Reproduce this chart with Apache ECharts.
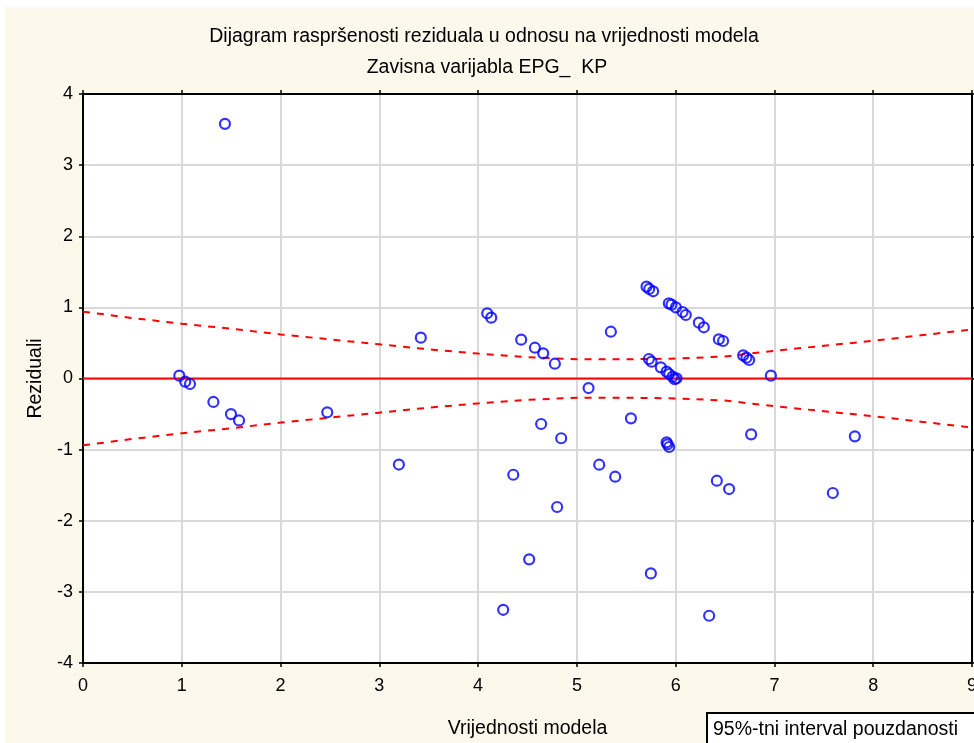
<!DOCTYPE html>
<html>
<head>
    <meta http-equiv="Content-Type" content="text/html; charset=utf-8"/>
    <script src="https://cdn.jsdelivr.net/npm/echarts@6/dist/echarts.min.js"></script>
    <style>
        html, body { margin: 0; padding: 0; background: #ffffff; }
    </style>
</head>
<body>

<div id="chart" style="width: 974px; height: 743px;"></div>

<script type="text/javascript">
    // vrijednosti modela (x) i reziduali (y)
    var modelValues = [1.437, 0.975, 1.035, 1.083, 1.32, 1.498, 1.58, 2.473, 3.198, 3.42,
        4.092, 4.133, 4.436, 4.575, 4.659, 4.777, 5.118, 5.344, 5.705, 5.732,
        5.772, 5.931, 5.958, 6.002, 6.07, 6.103, 6.235, 6.285, 6.437, 6.48,
        6.683, 6.717, 6.744, 6.964, 5.729, 5.756, 5.85, 5.908, 5.934, 5.968,
        6.009, 5.99, 4.638, 4.841, 5.547, 5.908, 5.917, 5.934, 6.764, 7.814,
        4.356, 5.226, 5.388, 6.417, 6.541, 7.591, 4.8, 4.517, 5.749, 4.254,
        6.339];
    var residuals = [3.58, 0.04, -0.045, -0.077, -0.33, -0.50, -0.59, -0.475, -1.21, 0.574,
        0.917, 0.855, 0.546, 0.433, 0.354, 0.208, -0.134, 0.658, 1.291, 1.259,
        1.226, 1.057, 1.038, 1.0, 0.935, 0.893, 0.785, 0.72, 0.551, 0.527,
        0.326, 0.293, 0.26, 0.04, 0.274, 0.236, 0.157, 0.096, 0.063, 0.025,
        0.003, -0.01, -0.64, -0.84, -0.56, -0.897, -0.925, -0.963, -0.785, -0.813,
        -1.353, -1.212, -1.381, -1.437, -1.554, -1.61, -1.807, -2.543, -2.74, -3.252,
        -3.336];

    // 95% interval pouzdanosti
    var bandX = [0, 0.5, 1, 1.5, 2, 2.5, 3, 3.5, 4, 4.5, 5, 5.5, 6, 6.5, 7, 7.5, 8, 8.5, 9];
    var bandUpper = [0.94, 0.85, 0.77, 0.70, 0.62, 0.55, 0.48, 0.41, 0.35, 0.30, 0.27, 0.27, 0.28, 0.31, 0.39, 0.46, 0.53, 0.61, 0.69];
    var bandLower = [-0.94, -0.85, -0.77, -0.70, -0.62, -0.55, -0.48, -0.41, -0.35, -0.30, -0.27, -0.27, -0.28, -0.31, -0.39, -0.46, -0.53, -0.61, -0.69];

    var zeroLine = [[0, 0], [9, 0]];

    var pts = modelValues.map(function (v, i) { return [v, residuals[i]]; });
    var up = bandX.map(function (v, i) { return [v, bandUpper[i]]; });
    var lo = bandX.map(function (v, i) { return [v, bandLower[i]]; });

    var font = '"Liberation Sans", Arial, sans-serif';

    var chart = echarts.init(document.getElementById('chart'));
    var option = {
        backgroundColor: '#ffffff',
        animation: false,
        textStyle: { fontFamily: font },
        title: [{
            text: 'Dijagram raspršenosti reziduala u odnosu na vrijednosti modela',
            left: 479, top: 22, textAlign: 'center',
            textStyle: { fontFamily: font, fontSize: 19.5, fontWeight: 'normal', color: '#000' }
        }, {
            text: 'Zavisna varijabla EPG_  KP',
            left: 482, top: 53, textAlign: 'center',
            textStyle: { fontFamily: font, fontSize: 19.5, fontWeight: 'normal', color: '#000' }
        }],
        graphic: [{
            type: 'rect', z: -10, silent: true,
            shape: { x: 5, y: 7, width: 975, height: 740 },
            style: { fill: '#fdf8ec' }
        }, {
            type: 'rect', z: 100,
            shape: { x: 707, y: 713, width: 270, height: 34 },
            style: { fill: '#ffffff', stroke: '#000', lineWidth: 2 }
        }, {
            type: 'text', z: 101,
            left: 713, top: 720,
            style: { text: '95%-tni interval pouzdanosti', font: '19.5px ' + font, fill: '#000' }
        }],
        grid: {
            left: 83, top: 94, right: 2, bottom: 80,
            outerBoundsMode: 'none',
            containLabel: false,
            show: true, backgroundColor: '#ffffff',
            borderColor: '#000', borderWidth: 2
        },
        xAxis: [{
            type: 'value', min: 0, max: 9, interval: 1,
            name: 'Vrijednosti modela', nameLocation: 'middle', nameGap: 56,
            nameTextStyle: { fontSize: 19.5, color: '#000' },
            axisLine: { onZero: false, lineStyle: { color: '#000', width: 2 } },
            axisTick: { show: true, length: 4, lineStyle: { color: '#000', width: 1.5 } },
            axisLabel: { fontSize: 18, color: '#000', margin: 14 },
            splitLine: { show: true, lineStyle: { color: '#d9d9d9', width: 2 } }
        }, {
            type: 'value', min: 0, max: 9, interval: 1, position: 'top',
            axisLine: { onZero: false, lineStyle: { color: '#000', width: 2 } },
            axisTick: { show: true, length: 4, lineStyle: { color: '#000', width: 1.5 } },
            axisLabel: { show: false },
            splitLine: { show: false }
        }],
        yAxis: [{
            type: 'value', min: -4, max: 4, interval: 1,
            name: 'Reziduali', nameLocation: 'middle', nameGap: 37, nameRotate: 90,
            nameTextStyle: { fontSize: 19.5, color: '#000' },
            axisLine: { onZero: false, lineStyle: { color: '#000', width: 2 } },
            axisTick: { show: true, length: 4, lineStyle: { color: '#000', width: 1.5 } },
            axisLabel: { fontSize: 18, color: '#000', margin: 10 },
            splitLine: { show: true, lineStyle: { color: '#d9d9d9', width: 2 } }
        }, {
            type: 'value', min: -4, max: 4, interval: 1, position: 'right',
            axisLine: { onZero: false, lineStyle: { color: '#000', width: 2 } },
            axisTick: { show: true, length: 4, lineStyle: { color: '#000', width: 1.5 } },
            axisLabel: { show: false },
            splitLine: { show: false }
        }],
        series: [{
            name: 'nula',
            type: 'line',
            data: zeroLine,
            symbol: 'none',
            lineStyle: { color: '#ff0000', width: 2 },
            z: 3
        }, {
            name: '95%-tni interval pouzdanosti',
            type: 'line',
            data: up,
            symbol: 'none',
            lineStyle: { color: '#ff0000', width: 2, type: [7, 7] },
            z: 3
        }, {
            name: '95%-tni interval pouzdanosti donji',
            type: 'line',
            data: lo,
            symbol: 'none',
            lineStyle: { color: '#ff0000', width: 2, type: [7, 7] },
            z: 3
        }, {
            name: 'Reziduali',
            type: 'scatter',
            data: pts,
            symbol: 'circle',
            symbolSize: 10,
            itemStyle: { color: 'rgba(0,0,0,0)', borderColor: '#0000ff', borderWidth: 2.2 },
            z: 4
        }]
    };

    chart.setOption(option);
</script>

</body>
</html>
